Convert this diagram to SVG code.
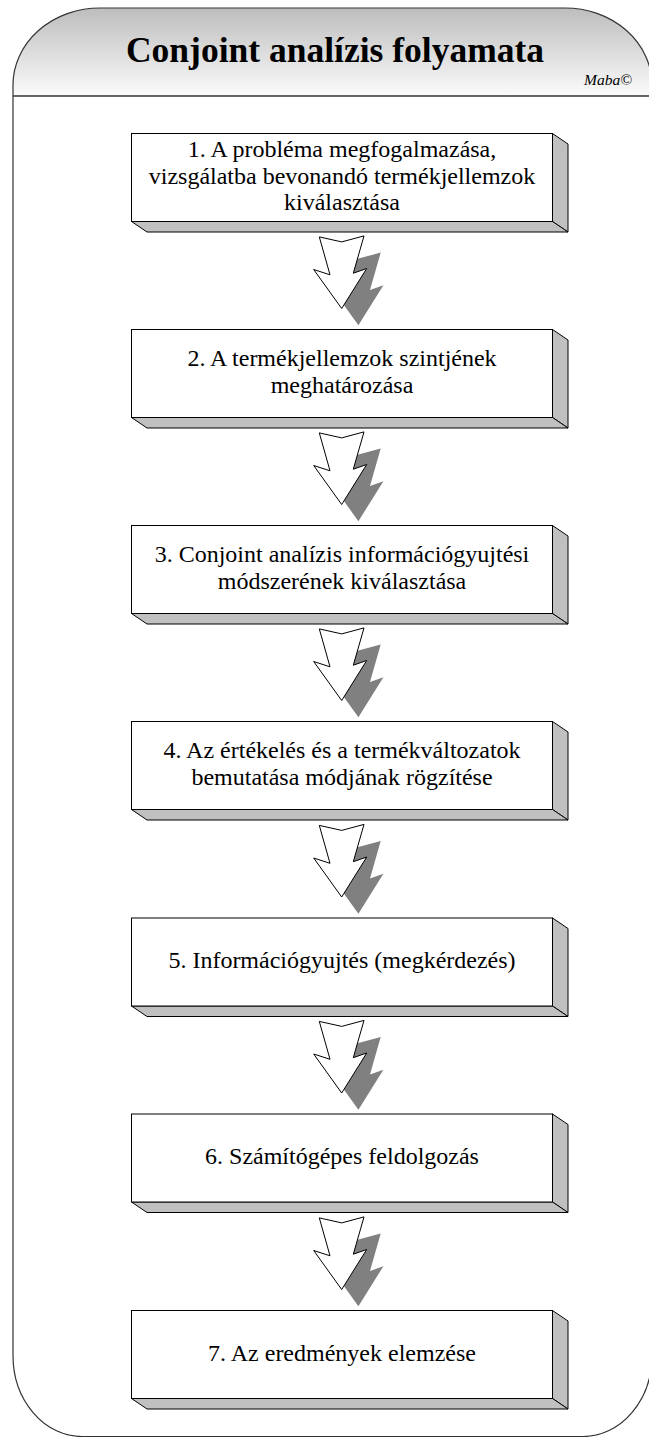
<svg xmlns="http://www.w3.org/2000/svg" xmlns:xlink="http://www.w3.org/1999/xlink" width="649" height="1437" viewBox="0 0 649 1437">
<style>
.frame{fill:none;stroke:#333;stroke-width:1.2}
.face{fill:#fff;stroke:#000;stroke-width:1}
.side{fill:#c0c0c0;stroke:#000;stroke-width:1;stroke-linejoin:round}
.lbl{font-family:"Liberation Serif","Times New Roman",serif;font-size:24px;fill:#000;text-anchor:middle}
.arrw{fill:#fff;stroke:#000;stroke-width:1;stroke-linejoin:miter}
.shad{fill:#808080;stroke:none}
</style>
<defs>
<linearGradient id="hdr" x1="0" y1="0" x2="0" y2="1">
<stop offset="0" stop-color="#bdbdbd"/>
<stop offset="1" stop-color="#fbfbfb"/>
</linearGradient>
<path id="arrow" d="M-22.4,-71.6 L0,-66.6 L22.3,-72.6 L11.6,-35.3 L25,-40 L0,0 L-28,-39 L-11.7,-33.7 Z"/>
</defs>
<rect width="649" height="1437" fill="#fff"/>
<g id="frame">
<path d="M13,96 L13,85 A87,77 0 0 1 100,8 L565,8 A87,77 0 0 1 652,85 L652,96 Z" fill="url(#hdr)" stroke="none"/>
<path class="frame" d="M13,1355 L13,85 A87,77 0 0 1 100,8 L565,8 A87,77 0 0 1 652,85 L652,1355 A69,81 0 0 1 583,1436.5 L82,1436.5 A69,81 0 0 1 13,1355 Z"/>
<line x1="13" y1="96" x2="652" y2="96" stroke="#333" stroke-width="1.6"/>
<text x="335" y="62" font-family="Liberation Serif,'Times New Roman',serif" font-weight="bold" font-size="35.5" text-anchor="middle" fill="#000">Conjoint analízis folyamata</text>
<text x="632" y="85" font-family="Liberation Serif,'Times New Roman',serif" font-style="italic" font-size="15.5" text-anchor="end" fill="#000">Maba©</text>
</g>
<g id="connectors">
<g id="arrow1"><use xlink:href="#arrow" href="#arrow" class="shad" transform="translate(358.4,325.2)"/><use xlink:href="#arrow" href="#arrow" class="arrw" transform="translate(341.7,308.5)"/></g>
<g id="arrow2"><use xlink:href="#arrow" href="#arrow" class="shad" transform="translate(358.4,521.2)"/><use xlink:href="#arrow" href="#arrow" class="arrw" transform="translate(341.7,504.5)"/></g>
<g id="arrow3"><use xlink:href="#arrow" href="#arrow" class="shad" transform="translate(358.4,717.2)"/><use xlink:href="#arrow" href="#arrow" class="arrw" transform="translate(341.7,700.5)"/></g>
<g id="arrow4"><use xlink:href="#arrow" href="#arrow" class="shad" transform="translate(358.4,913.7)"/><use xlink:href="#arrow" href="#arrow" class="arrw" transform="translate(341.7,897)"/></g>
<g id="arrow5"><use xlink:href="#arrow" href="#arrow" class="shad" transform="translate(358.4,1109.7)"/><use xlink:href="#arrow" href="#arrow" class="arrw" transform="translate(341.7,1093)"/></g>
<g id="arrow6"><use xlink:href="#arrow" href="#arrow" class="shad" transform="translate(358.4,1306.2)"/><use xlink:href="#arrow" href="#arrow" class="arrw" transform="translate(341.7,1289.5)"/></g>
</g>
<g id="node1">
<polygon class="side" points="552.5,133.5 568,144 568,232 552.5,221.5"/>
<polygon class="side" points="131.5,221.5 147,232 568,232 552.5,221.5"/>
<rect class="face" x="131.5" y="133.5" width="421" height="88"/>
<text class="lbl" x="342" y="156.8">1. A probléma megfogalmazása,</text>
<text class="lbl" x="342" y="183.5">vizsgálatba bevonandó termékjellemzok</text>
<text class="lbl" x="342" y="210.2">kiválasztása</text>
</g>
<g id="node2">
<polygon class="side" points="552.5,329.5 568,340 568,428 552.5,417.5"/>
<polygon class="side" points="131.5,417.5 147,428 568,428 552.5,417.5"/>
<rect class="face" x="131.5" y="329.5" width="421" height="88"/>
<text class="lbl" x="342" y="366.2">2. A termékjellemzok szintjének</text>
<text class="lbl" x="342" y="392.9">meghatározása</text>
</g>
<g id="node3">
<polygon class="side" points="552.5,525.5 568,536 568,624 552.5,613.5"/>
<polygon class="side" points="131.5,613.5 147,624 568,624 552.5,613.5"/>
<rect class="face" x="131.5" y="525.5" width="421" height="88"/>
<text class="lbl" x="342" y="562.2">3. Conjoint analízis információgyujtési</text>
<text class="lbl" x="342" y="588.9">módszerének kiválasztása</text>
</g>
<g id="node4">
<polygon class="side" points="552.5,721.5 568,732 568,820 552.5,809.5"/>
<polygon class="side" points="131.5,809.5 147,820 568,820 552.5,809.5"/>
<rect class="face" x="131.5" y="721.5" width="421" height="88"/>
<text class="lbl" x="342" y="758.2">4. Az értékelés és a termékváltozatok</text>
<text class="lbl" x="342" y="784.9">bemutatása módjának rögzítése</text>
</g>
<g id="node5">
<polygon class="side" points="552.5,918 568,928.5 568,1016.5 552.5,1006"/>
<polygon class="side" points="131.5,1006 147,1016.5 568,1016.5 552.5,1006"/>
<rect class="face" x="131.5" y="918" width="421" height="88"/>
<text class="lbl" x="342" y="968">5. Információgyujtés (megkérdezés)</text>
</g>
<g id="node6">
<polygon class="side" points="552.5,1114 568,1124.5 568,1212.5 552.5,1202"/>
<polygon class="side" points="131.5,1202 147,1212.5 568,1212.5 552.5,1202"/>
<rect class="face" x="131.5" y="1114" width="421" height="88"/>
<text class="lbl" x="342" y="1164">6. Számítógépes feldolgozás</text>
</g>
<g id="node7">
<polygon class="side" points="552.5,1310.5 568,1321 568,1409 552.5,1398.5"/>
<polygon class="side" points="131.5,1398.5 147,1409 568,1409 552.5,1398.5"/>
<rect class="face" x="131.5" y="1310.5" width="421" height="88"/>
<text class="lbl" x="342" y="1360.5">7. Az eredmények elemzése</text>
</g>
</svg>
